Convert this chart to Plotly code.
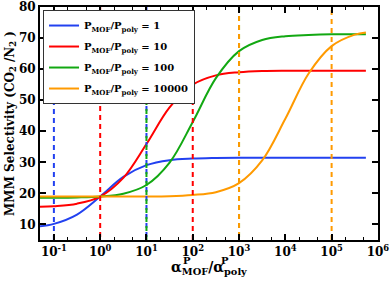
import plotly.graph_objects as go

# alpha_MOF / alpha_poly values (x)
alpha_ratio = [0.05, 0.1, 0.316, 1, 3.16, 10, 31.6, 100, 316, 1000, 3162,
               10000, 31623, 100000, 316228, 550000]

sel_p1 = [9.4, 10.2, 13.2, 19.0, 25.3, 29.1, 30.7, 31.2, 31.4, 31.5, 31.5,
          31.5, 31.5, 31.5, 31.5, 31.5]
sel_p10 = [15.7, 15.9, 16.7, 19.0, 25.0, 35.9, 47.7, 55.0, 58.0, 59.0, 59.4,
           59.5, 59.5, 59.5, 59.5, 59.5]
sel_p100 = [18.6, 18.6, 18.7, 19.0, 19.9, 22.7, 29.9, 43.0, 57.1, 65.8, 69.4,
            70.6, 71.0, 71.2, 71.2, 71.2]
sel_p10000 = [19.0, 19.0, 19.0, 19.0, 19.0, 19.0, 19.1, 19.5, 20.4, 23.3,
              30.6, 44.0, 58.5, 67.4, 71.1, 71.8]

series_names = ["P<sub>MOF</sub>/P<sub>poly</sub> = 1",
                "P<sub>MOF</sub>/P<sub>poly</sub> = 10",
                "P<sub>MOF</sub>/P<sub>poly</sub> = 100",
                "P<sub>MOF</sub>/P<sub>poly</sub> = 10000"]
series_values = [sel_p1, sel_p10, sel_p100, sel_p10000]
colors = ["#2241f0", "#ff0000", "#12a812", "#ff9a00"]

# dashed reference lines (alpha ratio positions) per series
ref_lines = [[0.1, 10], [1, 100], [10, 1000], [1000, 100000]]

y_range = [5, 80]
x_tickvals = [0.1, 1, 10, 100, 1000, 10000, 100000, 1000000]
x_ticktext = ["10<sup>-1</sup>", "10<sup>0</sup>", "10<sup>1</sup>",
              "10<sup>2</sup>", "10<sup>3</sup>", "10<sup>4</sup>",
              "10<sup>5</sup>", "10<sup>6</sup>"]
y_tickvals = [10, 20, 30, 40, 50, 60, 70, 80]

FONT = "DejaVu Serif"

fig = go.Figure()

for i, (name, vals, col) in enumerate(zip(series_names, series_values, colors)):
    fig.add_trace(go.Scatter(x=alpha_ratio, y=vals, mode="lines", name=name,
                             legendgroup=f"g{i}",
                             line=dict(color=col, width=2, shape="spline")))

for i, (lines, col) in enumerate(zip(ref_lines, colors)):
    for j, xv in enumerate(lines):
        ys = y_range if (i + j) % 2 == 0 else y_range[::-1]
        fig.add_trace(go.Scatter(x=[xv, xv], y=ys, mode="lines",
                                 showlegend=False, hoverinfo="skip",
                                 line=dict(color=col, width=2, dash="5px,4px")))

fig.update_layout(
    width=390, height=283,
    margin=dict(l=40, r=12, t=7, b=43),
    paper_bgcolor="white", plot_bgcolor="white",
    font=dict(family=FONT, size=12, color="black", weight="bold"),
    showlegend=True,
    legend=dict(x=0.009, y=0.987, xanchor="left", yanchor="top",
                bgcolor="white", bordercolor="#333333", borderwidth=1,
                font=dict(family=FONT, size=10, weight="bold"),
                itemwidth=30, tracegroupgap=2),
)

fig.update_xaxes(type="log", range=[-1.3, 6.002], automargin=False,
                 tickvals=x_tickvals, ticktext=x_ticktext,
                 ticks="inside", ticklen=6, tickwidth=1.5, tickcolor="black",
                 showline=True, linecolor="black", linewidth=2, mirror="ticks",
                 showgrid=False, zeroline=False,
                 tickfont=dict(family=FONT, size=12, weight="bold"),
                 minor=dict(ticks="inside", ticklen=3, tickwidth=1,
                            tickcolor="black", showgrid=False))
fig.update_yaxes(range=y_range, tickvals=y_tickvals, automargin=False,
                 ticks="inside", ticklen=6, tickwidth=1.5, tickcolor="black",
                 showline=True, linecolor="black", linewidth=2, mirror="ticks",
                 showgrid=False, zeroline=False,
                 tickfont=dict(family=FONT, size=12, weight="bold"),
                 title=dict(text="MMM Selectivity (CO<sub>2</sub> /N<sub>2</sub> )",
                            font=dict(family=FONT, size=12, weight="bold"),
                            standoff=2))

# x-axis title: alpha with stacked super/subscripts
fig.add_annotation(xref="paper", yref="paper", x=0.5, y=0, yshift=-28,
                   xanchor="center", yanchor="middle", showarrow=False,
                   text="α<sub>MOF</sub>/α<sub>poly</sub>",
                   font=dict(family=FONT, size=14, weight="bold"))
fig.add_annotation(xref="paper", yref="paper", x=0.5, y=0, yshift=-20,
                   xshift=-22, xanchor="center", yanchor="middle",
                   showarrow=False, text="P",
                   font=dict(family=FONT, size=10, weight="bold"))
fig.add_annotation(xref="paper", yref="paper", x=0.5, y=0, yshift=-20,
                   xshift=16, xanchor="center", yanchor="middle",
                   showarrow=False, text="P",
                   font=dict(family=FONT, size=10, weight="bold"))

fig.write_html("out.html", config={"displayModeBar": False},
               post_script="document.body.style.margin='0';"
                           "document.body.style.padding='0';")
